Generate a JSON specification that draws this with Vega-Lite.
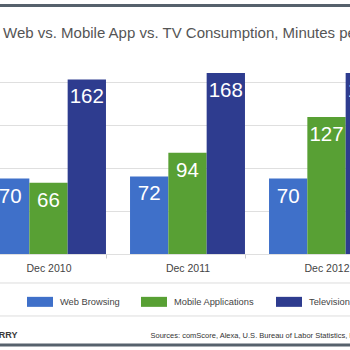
{
  "$schema": "https://vega.github.io/schema/vega-lite/v6.json",
  "width": 350,
  "height": 194,
  "autosize": "none",
  "padding": {"top": 60, "left": 0, "right": 0, "bottom": 96},
  "background": "white",
  "config": {"view": {"stroke": null}, "font": "Liberation Sans"},
  "title": {
    "text": "Web vs. Mobile App vs. TV Consumption, Minutes per Day",
    "anchor": "start",
    "frame": "group",
    "dx": 3,
    "fontSize": 15,
    "fontWeight": "normal",
    "color": "#555555",
    "font": "Liberation Sans",
    "baseline": "alphabetic",
    "offset": -48
  },
  "data": {
    "values": [
      {"period": "Dec 2010", "type": "Web Browsing", "minutes": 70},
      {"period": "Dec 2010", "type": "Mobile Applications", "minutes": 66},
      {"period": "Dec 2010", "type": "Television", "minutes": 162},
      {"period": "Dec 2011", "type": "Web Browsing", "minutes": 72},
      {"period": "Dec 2011", "type": "Mobile Applications", "minutes": 94},
      {"period": "Dec 2011", "type": "Television", "minutes": 168},
      {"period": "Dec 2012", "type": "Web Browsing", "minutes": 70},
      {"period": "Dec 2012", "type": "Mobile Applications", "minutes": 127},
      {"period": "Dec 2012", "type": "Television", "minutes": 168}
    ]
  },
  "resolve": {"axis": {"x": "independent"}},
  "layer": [
    {
      "mark": {"type": "bar", "clip": false},
      "encoding": {
        "x": {
          "field": "period",
          "type": "nominal",
          "scale": {"range": [-21, 396], "paddingInner": 0.173, "paddingOuter": 0.0865},
          "axis": {
            "orient": "bottom",
            "title": "Sources: comScore, Alexa, U.S. Bureau of Labor Statistics, Flurry Analytics",
            "titleX": 150,
            "titleY": 83,
            "titleAlign": "left",
            "titleBaseline": "alphabetic",
            "titleFont": "Liberation Sans",
            "titleFontSize": 7.5,
            "titleFontWeight": "normal",
            "titleColor": "#333333",
            "labelAngle": 0,
            "labelFont": "Liberation Sans",
            "labelFontSize": 10.5,
            "labelColor": "#444444",
            "labelPadding": 5,
            "tickBand": "extent",
            "tickSize": 4,
            "tickColor": "#cccccc",
            "domain": false,
            "grid": false
          }
        },
        "xOffset": {"field": "type", "type": "nominal", "sort": ["Web Browsing", "Mobile Applications", "Television"]},
        "y": {
          "field": "minutes",
          "type": "quantitative",
          "scale": {"domain": [0, 180]},
          "axis": {
            "title": "FLURRY",
            "titleAngle": 0,
            "titleX": 17,
            "titleY": 277,
            "titleAlign": "right",
            "titleBaseline": "alphabetic",
            "titleFontSize": 9,
            "titleFontWeight": "bold",
            "titleColor": "#3a3a3a",
            "labels": false,
            "ticks": false,
            "domain": false,
            "grid": true,
            "gridColor": "#dfdfdf",
            "values": [0, 20, 40, 60, 80, 100, 120, 140, 160, 180]
          }
        },
        "color": {
          "field": "type",
          "type": "nominal",
          "scale": {
            "domain": ["Web Browsing", "Mobile Applications", "Television"],
            "range": ["#3f70c9", "#58a034", "#2e3c8f"]
          },
          "legend": {
            "orient": "none",
            "legendX": 27,
            "legendY": 228.5,
            "direction": "horizontal",
            "title": null,
            "symbolType": "M-1,-0.385H1V0.385H-1Z",
            "symbolSize": 676,
            "symbolStrokeWidth": 0,
            "symbolOpacity": 1,
            "labelFont": "Liberation Sans",
            "labelFontSize": 9.3,
            "labelColor": "#444444",
            "labelOffset": 7,
            "columnPadding": 21,
            "padding": 0
          }
        }
      }
    },
    {
      "mark": {"type": "text", "clip": false, "dy": 18, "baseline": "middle", "color": "white", "fontSize": 20.5, "font": "Liberation Sans"},
      "encoding": {
        "x": {
          "field": "period",
          "type": "nominal",
          "axis": {
            "orient": "top",
            "offset": 55,
            "title": null,
            "labels": false,
            "ticks": false,
            "grid": false,
            "domain": true,
            "domainWidth": 3,
            "domainColor": "#56616c"
          }
        },
        "xOffset": {"field": "type", "type": "nominal", "sort": ["Web Browsing", "Mobile Applications", "Television"]},
        "y": {"field": "minutes", "type": "quantitative"},
        "text": {"field": "minutes", "type": "quantitative"}
      }
    },
    {
      "data": {"values": [{}]},
      "mark": {"type": "rule", "clip": false, "color": "#56616c", "strokeWidth": 3},
      "encoding": {"y": {"datum": -84.4, "type": "quantitative"}}
    },
    {
      "data": {"values": [{}]},
      "mark": {"type": "rule", "clip": false, "color": "#dddddd", "strokeWidth": 1},
      "encoding": {"y": {"datum": -26.9, "type": "quantitative"}}
    },
    {
      "data": {"values": [{}]},
      "mark": {"type": "rule", "clip": false, "color": "#dddddd", "strokeWidth": 1},
      "encoding": {"y": {"datum": -57.5, "type": "quantitative"}}
    }
  ]
}
